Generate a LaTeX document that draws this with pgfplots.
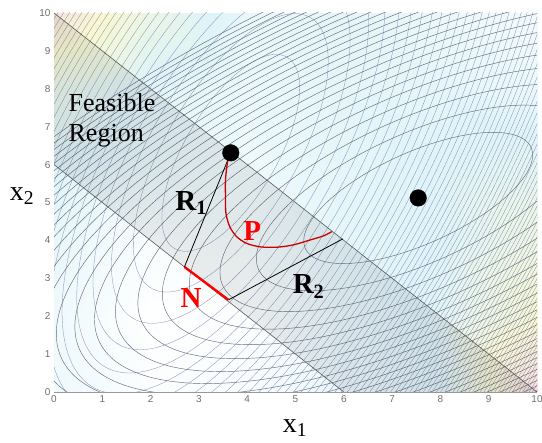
\documentclass[border=0pt]{standalone}
\usepackage{pgfplots}
\usepackage{pgfplotstable}
\pgfplotsset{compat=1.18}
\usepackage{fontspec}
\setmainfont{Liberation Serif}
\newfontfamily\tickfont{Liberation Sans}

% unit circle, 5 degree steps
\pgfplotstableread{
c s
1.0000 0.0000
0.9962 0.0872
0.9848 0.1736
0.9659 0.2588
0.9397 0.3420
0.9063 0.4226
0.8660 0.5000
0.8192 0.5736
0.7660 0.6428
0.7071 0.7071
0.6428 0.7660
0.5736 0.8192
0.5000 0.8660
0.4226 0.9063
0.3420 0.9397
0.2588 0.9659
0.1736 0.9848
0.0872 0.9962
0.0000 1.0000
-0.0872 0.9962
-0.1736 0.9848
-0.2588 0.9659
-0.3420 0.9397
-0.4226 0.9063
-0.5000 0.8660
-0.5736 0.8192
-0.6428 0.7660
-0.7071 0.7071
-0.7660 0.6428
-0.8192 0.5736
-0.8660 0.5000
-0.9063 0.4226
-0.9397 0.3420
-0.9659 0.2588
-0.9848 0.1736
-0.9962 0.0872
-1.0000 0.0000
-0.9962 -0.0872
-0.9848 -0.1736
-0.9659 -0.2588
-0.9397 -0.3420
-0.9063 -0.4226
-0.8660 -0.5000
-0.8192 -0.5736
-0.7660 -0.6428
-0.7071 -0.7071
-0.6428 -0.7660
-0.5736 -0.8192
-0.5000 -0.8660
-0.4226 -0.9063
-0.3420 -0.9397
-0.2588 -0.9659
-0.1736 -0.9848
-0.0872 -0.9962
0.0000 -1.0000
0.0872 -0.9962
0.1736 -0.9848
0.2588 -0.9659
0.3420 -0.9397
0.4226 -0.9063
0.5000 -0.8660
0.5736 -0.8192
0.6428 -0.7660
0.7071 -0.7071
0.7660 -0.6428
0.8192 -0.5736
0.8660 -0.5000
0.9063 -0.4226
0.9397 -0.3420
0.9659 -0.2588
0.9848 -0.1736
0.9962 -0.0872
1.0000 0.0000
}\circtab

% pale background colour values
\pgfplotstableread{
x y c
0 0 0.5
2 0 0.1
4 0 0.2
6 0 0.7
8 0 1.0
10 0 2.8

0 2 0.5
2 2 0.0
4 2 0.1
6 2 0.7
8 2 1.1
10 2 2.0

0 4 0.7
2 4 0.2
4 4 0.3
6 4 0.8
8 4 1.0
10 4 1.6

0 6 1.0
2 6 0.7
4 6 0.5
6 6 0.8
8 6 1.0
10 6 1.2

0 8 1.4
2 8 0.9
4 8 0.6
6 8 0.8
8 8 0.8
10 8 0.6

0 10 2.6
2 10 1.5
4 10 0.7
6 10 0.8
8 10 0.6
10 10 0.4
}\bgtab

\definecolor{fone}{RGB}{135,135,185}
\definecolor{ftwo}{RGB}{105,105,122}
\definecolor{ticktext}{RGB}{110,110,110}

\begin{document}
\begin{tikzpicture}
\begin{axis}[
  width=483pt, height=379pt, scale only axis,
  xmin=0, xmax=10, ymin=0, ymax=10,
  axis x line*=bottom, axis y line*=left,
  axis line style={gray!80, line width=0.6pt},
  xtick={0,...,10}, ytick={0,...,10},
  tick align=inside, major tick length=3pt,
  tick style={gray!80},
  tick label style={font=\tickfont\fontsize{10}{12}\selectfont, text=ticktext},
  /pgf/number format/assume math mode=true,
  colormap={pale}{rgb255(0)=(255,255,255) rgb255(1)=(222,244,248) rgb255(2)=(248,248,208) rgb255(3)=(248,218,226)},
  point meta min=0, point meta max=3,
  clip mode=individual,
]
% background shading
\addplot[surf, shader=interp, mesh/cols=6, point meta=explicit, forget plot] table[meta=c] {\bgtab};

% contours of f1 (centre 3.66,6.31)
\pgfplotsinvokeforeach{1,...,75}{
  \addplot[fone, line width=0.3pt, smooth, forget plot] table[
    x expr={3.66+sqrt(#1)*(1.090*\thisrow{c}-0.920*\thisrow{s})},
    y expr={6.31+sqrt(#1)*(2.568*\thisrow{c}+0.391*\thisrow{s})}] {\circtab};
}
% contours of f2 (centre 7.54,5.12)
\pgfplotsinvokeforeach{1,...,26}{
  \addplot[ftwo, line width=0.45pt, smooth, forget plot] table[
    x expr={7.54+sqrt(#1)*(2.290*\thisrow{c}-0.609*\thisrow{s})},
    y expr={5.12+sqrt(#1)*(1.431*\thisrow{c}+0.975*\thisrow{s})}] {\circtab};
}

% feasible band
\addplot[draw=none, fill=black, fill opacity=0.07, forget plot] coordinates {(0,6) (6,0) (10,0) (0,10)} -- cycle;
\addplot[gray!70!black, line width=0.6pt, forget plot] coordinates {(0,6) (6,0)};
\addplot[gray!70!black, line width=0.6pt, forget plot] coordinates {(0,10) (10,0)};

% R1, R2, N, P
\addplot[black, line width=0.8pt, forget plot] coordinates {(2.70,3.30) (3.64,6.25)};
\addplot[black, line width=0.8pt, forget plot] coordinates {(3.61,2.43) (5.98,4.04)};
\addplot[red, line width=2.4pt, forget plot] coordinates {(2.70,3.30) (3.61,2.43)};
\addplot[red!80!black, line width=1.3pt, smooth, forget plot] coordinates {
  (3.64,6.25) (3.59,6.05) (3.55,5.59) (3.55,5.15) (3.56,4.71) (3.64,4.36)
  (3.78,4.10) (3.99,3.92) (4.27,3.83) (4.61,3.82) (4.95,3.88) (5.30,4.01)
  (5.58,4.12) (5.75,4.23)};

% minima
\addplot[only marks, mark=*, mark size=8.3pt, black, forget plot] coordinates {(3.66,6.31) (7.54,5.12)};

% labels
\node[anchor=base west, font=\fontsize{26}{30}\selectfont] at (axis cs:0.23,7.39) {Feasible};
\node[anchor=base west, font=\fontsize{26}{30}\selectfont] at (axis cs:0.23,6.60) {Region};
\node[anchor=base west, font=\bfseries\fontsize{29}{32}\selectfont] at (axis cs:2.44,4.80) {R\textsubscript{1}};
\node[anchor=base west, font=\bfseries\fontsize{29}{32}\selectfont] at (axis cs:4.87,2.59) {R\textsubscript{2}};
\node[anchor=base west, text=red, font=\bfseries\fontsize{29}{32}\selectfont] at (axis cs:3.85,4.01) {P};
\node[anchor=base west, text=red, font=\bfseries\fontsize{29}{32}\selectfont] at (axis cs:2.55,2.24) {N};
\node[font=\fontsize{28}{30}\selectfont] at (axis cs:4.99,-0.95) {x\textsubscript{1}};
\node[font=\fontsize{28}{30}\selectfont] at (axis cs:-0.66,5.17) {x\textsubscript{2}};
\end{axis}
\pgfresetboundingbox
\path[use as bounding box] ([shift={(-54pt,-50pt)}]current axis.south west) rectangle ([shift={(5pt,13pt)}]current axis.north east);
\end{tikzpicture}
\end{document}
